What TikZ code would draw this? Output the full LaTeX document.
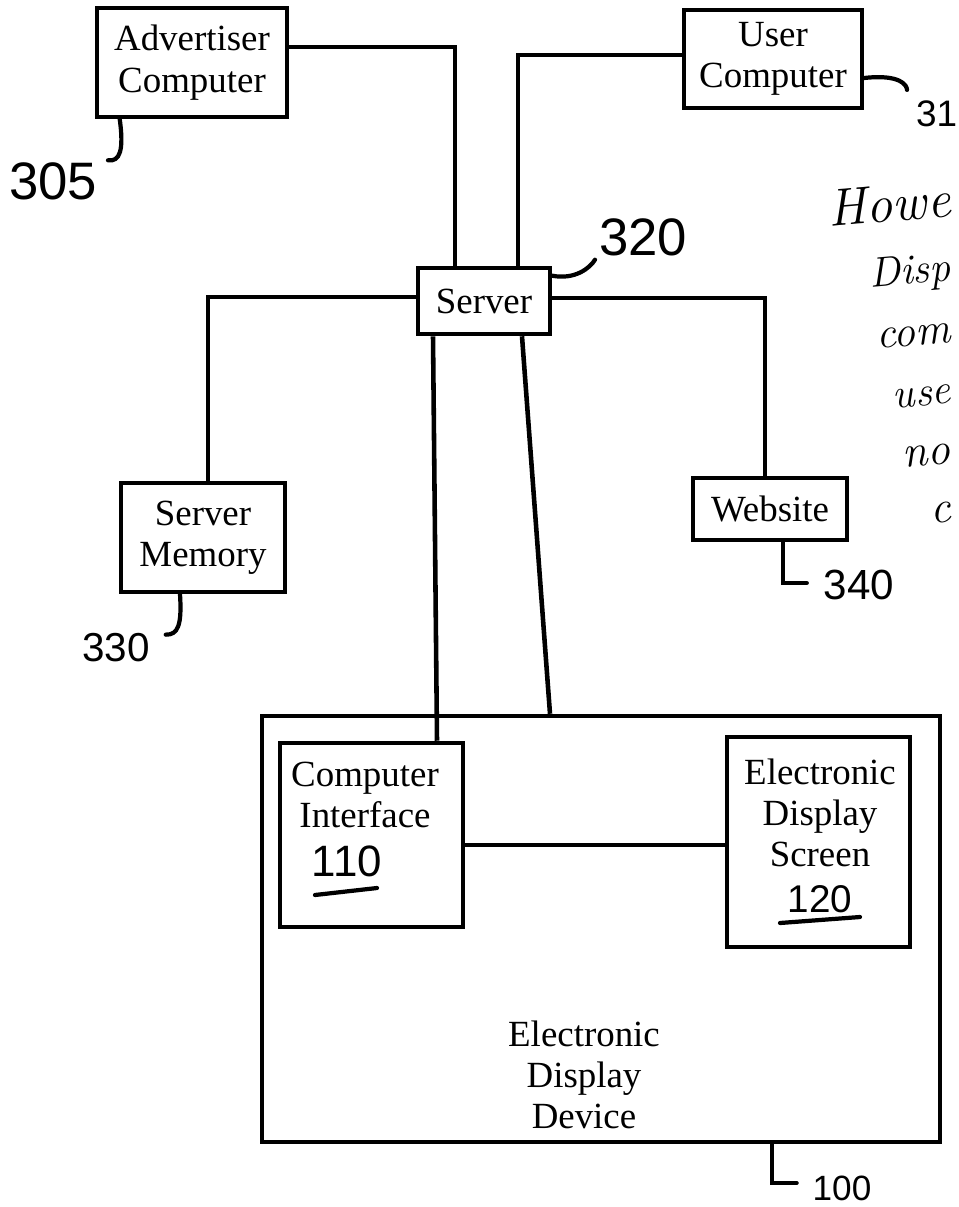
\documentclass[tikz,border=0pt]{standalone}
\usepackage{fontspec}
\newfontfamily\tnrfont{Liberation Serif}
\newfontfamily\numfont{Liberation Sans}
\usetikzlibrary{calc}
\begin{document}
\begin{tikzpicture}[x=0.02cm,y=-0.02cm,line width=2.6pt,
  box/.style={draw,line width=2.6pt,inner sep=0pt,align=center,font=\tnrfont\fontsize{21}{23.5}\selectfont},
  txt/.style={inner sep=0pt,align=center,font=\tnrfont\fontsize{21}{23.5}\selectfont},
  num/.style={inner sep=1pt,font=\numfont\fontsize{#1}{#1}\selectfont},
  hw/.style={inner sep=0pt,anchor=base east,rotate=5,font=\itshape\fontsize{#1}{#1}\selectfont},
  lead/.style={line width=2.4pt,line cap=round}]
\useasboundingbox (0,0) rectangle (959,1207);
\fill[white] (0,0) rectangle (959,1207);

% boxes
\node[box,minimum width=3.8cm,minimum height=2.18cm] (adv) at (192,62.5) {Advertiser\\Computer};
\node[box,minimum width=3.56cm,minimum height=1.96cm] (user) at (773,59) {User\\Computer};
\node[box,minimum width=2.64cm,minimum height=1.32cm] (server) at (484,301) {Server};
\node[box,minimum width=3.28cm,minimum height=2.18cm] (mem) at (203,537.5) {Server\\Memory};
\node[box,minimum width=3.08cm,minimum height=1.24cm] (web) at (770,509) {Website};
\node[box,minimum width=13.56cm,minimum height=8.52cm] (dev) at (601,929) {};
\node[box,minimum width=3.66cm,minimum height=3.68cm] (ci) at (371.5,835) {};
\node[box,minimum width=3.66cm,minimum height=4.2cm] (eds) at (818.5,842) {};

% texts inside the device
\node[txt] (devtxt) at (584,1075) {Electronic\\Display\\Device};
\node[txt] (citxt) at (365,795) {Computer\\Interface};
\node[txt] (edstxt) at (820,813) {Electronic\\Display\\Screen};
\node[num=25] (l110) at (347,861) {110};
\node[num=22] (l120) at (820,899) {120};
\draw[lead] ($(l110)+(-32,34)$) -- ($(l110)+(30,27)$);
\draw[lead] ($(l120)+(-40,24)$) -- ($(l120)+(40,18)$);

% reference numerals
\node[num=30] (l305) at (53,181) {305};
\node[num=21,anchor=west] (l31) at (912,114) {31};
\node[num=30] (l320) at (643,237) {320};
\node[num=23] (l330) at (116,648) {330};
\node[num=24] (l340) at (859,585) {340};
\node[num=20] (l100) at (842,1188) {100};

% connectors
\draw ($(adv.east)+(0,-15.5)$) -| ($(server.north)+(-29,0)$);
\draw ($(user.west)+(0,-4)$) -| ($(server.north)+(34,0)$);
\draw ($(server.west)+(0,-4)$) -| ($(mem.north)+(5,0)$);
\draw ($(server.east)+(0,-3)$) -| ($(web.north)+(-5,0)$);
\draw ($(server.south)+(-51,0)$) -- ($(ci.north)+(65.5,0)$);
\draw ($(server.south)+(38,0)$) -- ($(dev.north)+(-51,0)$);
\draw ($(ci.east)+(0,10)$) -- ($(eds.west)+(0,3)$);

% leader lines
\draw[lead] ($(adv.south west)+(25,0)$) .. controls (124,150) and (120,162) .. ($(l305.north east)+(7,2)$);
\draw[lead] ($(user.east)+(0,19)$) .. controls (900,74) and (907,85) .. ($(l31.north west)+(-5,-7)$);
\draw[lead] ($(server.north east)+(0,10)$) .. controls (575,280) and (590,268) .. (l320.south west);
\draw[lead] ($(mem.south)+(-23,0)$) .. controls (182,625) and (178,635) .. ($(l330.north east)+(12,5)$);
\draw[lead] ($(web.south)+(13,0)$) |- ($(l340.west)+(-13,-2)$);
\draw[lead] ($(dev.south)+(171,0)$) |- ($(l100.west)+(-12,-5)$);

% handwritten annotation (cut off at the picture's edge)
\node[hw=30] (hw1) at (954,216) {Howe};
\node[hw=24] (hw2) at (954,280) {Disp};
\node[hw=25] (hw3) at (954,342) {com};
\node[hw=24] (hw4) at (954,403) {use};
\node[hw=26] (hw5) at (954,463) {no};
\node[hw=26] (hw6) at (954,522) {c};
\end{tikzpicture}
\end{document}
